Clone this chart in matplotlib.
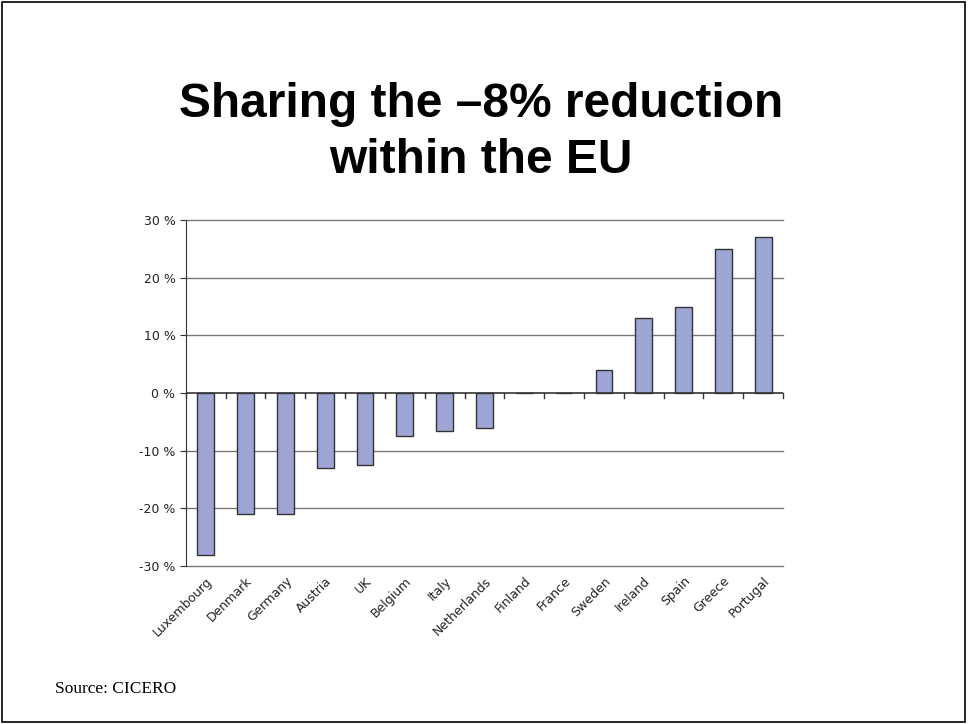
import matplotlib.pyplot as plt
from matplotlib.patches import Rectangle
from matplotlib.ticker import FuncFormatter

countries = ["Luxembourg", "Denmark", "Germany", "Austria", "UK", "Belgium",
             "Italy", "Netherlands", "Finland", "France", "Sweden", "Ireland",
             "Spain", "Greece", "Portugal"]
targets = [-28, -21, -21, -13, -12.5, -7.5, -6.5, -6, 0, 0, 4, 13, 15, 25, 27]
y_ticks = [-30, -20, -10, 0, 10, 20, 30]

fig = plt.figure(figsize=(9.68, 7.24), dpi=100)

# slide border
fig.patches.append(Rectangle((0.002, 0.003), 0.995, 0.994, transform=fig.transFigure,
                             fill=False, edgecolor="black", linewidth=1.2))

fig.text(0.497, 0.817, "Sharing the \u20138% reduction\nwithin the EU", ha="center",
         va="center", fontsize=34.5, fontweight="bold", family="Liberation Sans",
         linespacing=1.32)

ax = fig.add_axes([0.192, 0.218, 0.617, 0.478])
x = list(range(len(countries)))
ax.bar(x, targets, width=0.42, color="#9da5d5", edgecolor="#333333", linewidth=1, zorder=3)

ax.set_xlim(-0.5, len(countries) - 0.5)
ax.set_ylim(-30, 30)
ax.set_yticks(y_ticks)
ax.yaxis.set_major_formatter(FuncFormatter(lambda v, p: f"{int(v)} %"))
for v in y_ticks:
    if v != 0:
        ax.axhline(v, color="#777777", linewidth=1, zorder=0, clip_on=False)

for s in ["top", "right", "bottom"]:
    ax.spines[s].set_visible(False)
ax.spines["left"].set_color("#333333")

# category labels below the plot
ax.set_xticks(x)
ax.set_xticklabels(countries, rotation=45, ha="right", rotation_mode="anchor",
                   fontsize=9, color="#222222")
ax.tick_params(axis="x", length=0, pad=6)
ax.tick_params(axis="y", length=4, color="#333333", labelsize=9, labelcolor="#222222")

# zero line with tick marks between categories
ax.axhline(0, color="#333333", linewidth=1.2, zorder=4)
for b in [i + 0.5 for i in range(-1, len(countries))]:
    ax.plot([b, b], [0, -0.8], color="#333333", linewidth=1, zorder=4, clip_on=False)

fig.text(0.057, 0.043, "Source: CICERO", fontsize=12.5, family="Liberation Serif")

fig.savefig("out.png", dpi=100)
